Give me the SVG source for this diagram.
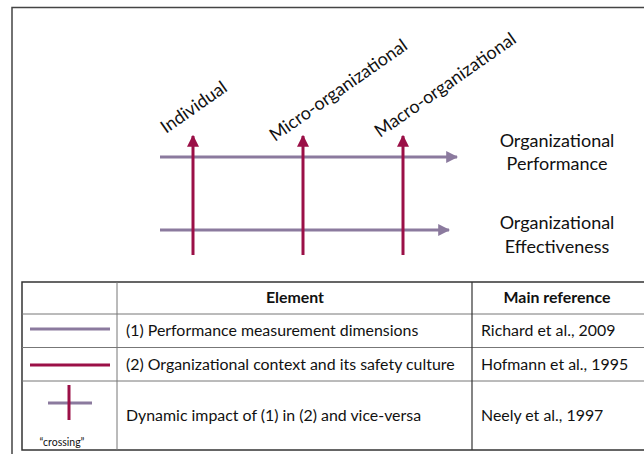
<svg xmlns="http://www.w3.org/2000/svg" width="644" height="454" viewBox="0 0 644 454">
<style>
.t{font-family:Lato,"Open Sans",sans-serif;font-size:15.9px;fill:#111}
.b{font-weight:bold}
.lab{font-family:Lato,"Open Sans",sans-serif;font-size:18px;fill:#111}
.out{font-family:Lato,"Open Sans",sans-serif;font-size:18px;fill:#111;text-anchor:middle}
.pur{stroke:#8b7a9e;stroke-width:3;fill:none}
.red{stroke:#9b1047;stroke-width:3;fill:none}
.grid{stroke:#777;stroke-width:1;fill:none}
</style>
<defs>
<marker id="ap" viewBox="0 0 10 10" refX="9" refY="5" markerWidth="4" markerHeight="4" orient="auto" markerUnits="strokeWidth"><path d="M0,0 L10,5 L0,10 z" fill="#8b7a9e"/></marker>
<marker id="ar" viewBox="0 0 10 10" refX="9" refY="5" markerWidth="4" markerHeight="4" orient="auto" markerUnits="strokeWidth"><path d="M0,0 L10,5 L0,10 z" fill="#9b1047"/></marker>
</defs>
<rect x="0" y="0" width="644" height="454" fill="#fff"/>
<path d="M12,455 L12,7.5 L645,7.5" stroke="#444" stroke-width="1.5" fill="none"/>

<g id="connectors">
<line class="pur" x1="160" y1="157" x2="457" y2="157" marker-end="url(#ap)"/>
<line class="pur" x1="160" y1="230" x2="449" y2="230" marker-end="url(#ap)"/>
<line class="red" x1="193" y1="255" x2="193" y2="136" marker-end="url(#ar)"/>
<line class="red" x1="303" y1="255" x2="303" y2="136" marker-end="url(#ar)"/>
<line class="red" x1="403" y1="255" x2="403" y2="136" marker-end="url(#ar)"/>
</g>

<g id="individual"><text class="lab" transform="translate(166,134) rotate(-35)">Individual</text></g>
<g id="micro"><text class="lab" transform="translate(275,142) rotate(-35)">Micro-organizational</text></g>
<g id="macro"><text class="lab" transform="translate(380,138) rotate(-35)">Macro-organizational</text></g>

<g id="org-performance"><text class="out" x="557" y="147">Organizational</text><text class="out" x="557" y="170">Performance</text></g>
<g id="org-effectiveness"><text class="out" x="557" y="229">Organizational</text><text class="out" x="557" y="253">Effectiveness</text></g>

<g id="table">
<rect x="22" y="282" width="625" height="168" fill="none" stroke="#333" stroke-width="1.5"/>
<line class="grid" x1="22" y1="314" x2="646" y2="314"/>
<line class="grid" x1="22" y1="347.5" x2="646" y2="347.5"/>
<line class="grid" x1="22" y1="381" x2="646" y2="381"/>
<line x1="117" y1="282" x2="117" y2="450" stroke="#777" stroke-width="1"/>
<line x1="472" y1="282" x2="472" y2="450" stroke="#333" stroke-width="1.2"/>
<text class="t b" x="295" y="303" text-anchor="middle">Element</text>
<text class="t b" x="557" y="303" text-anchor="middle">Main reference</text>
<line class="pur" x1="30" y1="329" x2="110" y2="329"/>
<text class="t" x="126" y="336">(1) Performance measurement dimensions</text>
<text class="t" x="481" y="336">Richard et al., 2009</text>
<line class="red" x1="30" y1="365" x2="110" y2="365"/>
<text class="t" x="126" y="370">(2) Organizational context and its safety culture</text>
<text class="t" x="481" y="370">Hofmann et al., 1995</text>
<line class="pur" x1="48" y1="403" x2="92" y2="403"/>
<line class="red" x1="69" y1="385" x2="69" y2="420"/>
<text class="t" x="62" y="446" text-anchor="middle" style="font-size:10.5px">“crossing”</text>
<text class="t" x="126" y="421">Dynamic impact of (1) in (2) and vice-versa</text>
<text class="t" x="481" y="421">Neely et al., 1997</text>
</g>
</svg>
